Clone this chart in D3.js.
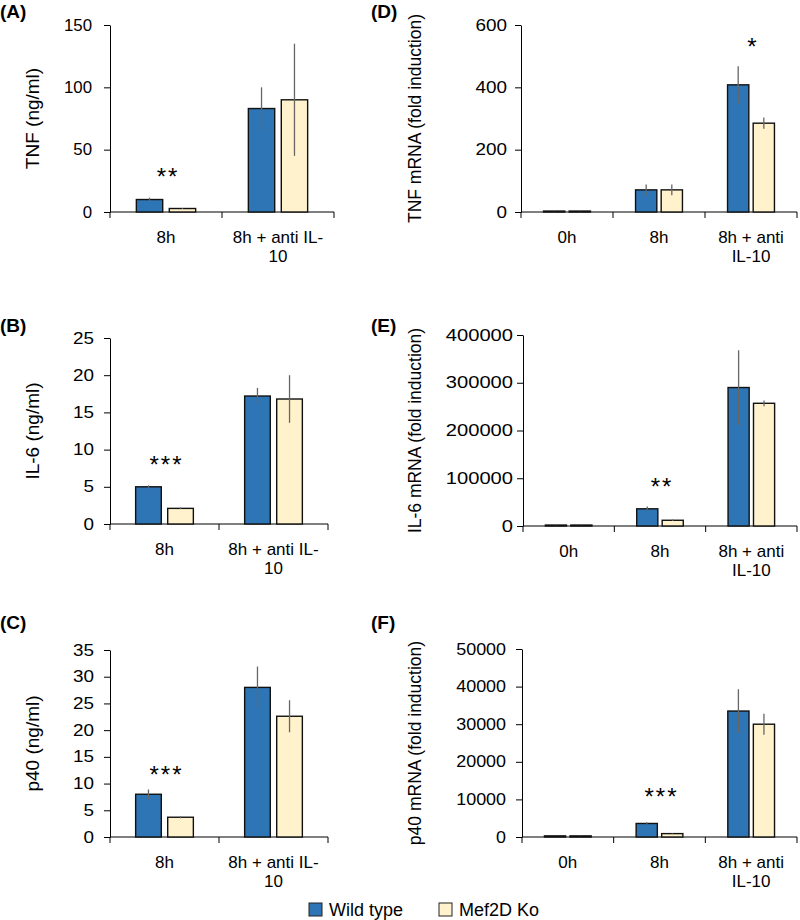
<!DOCTYPE html>
<html><head><meta charset="utf-8">
<script src="https://cdn.jsdelivr.net/npm/d3@7"></script>
<style>body{margin:0;background:#fff}svg{display:block;font-family:"Liberation Sans",Arial,sans-serif}</style>
</head><body>
<svg id="chart" width="800" height="920"></svg>
<script>
// ---------- DATA ----------
const seriesNames = ["Wild type", "Mef2D Ko"];
const seriesColors = ["#2E75B6", "#FFF2CC"];

const catsProtein = ["8h", "8h + anti IL-10"];
const catsMrna = ["0h", "8h", "8h + anti IL-10"];
const catLinesProtein = [["8h"], ["8h + anti IL-", "10"]];
const catLinesMrna = [["0h"], ["8h"], ["8h + anti", "IL-10"]];

// (A) TNF protein
const tnfWT = [10, 83], tnfWTErr = [1.5, 17];
const tnfKO = [2.8, 90], tnfKOErr = [0.4, 45];
const tnfTicks = [0, 50, 100, 150];
// (B) IL-6 protein
const il6WT = [5.0, 17.2], il6WTErr = [0.2, 1.1];
const il6KO = [2.1, 16.8], il6KOErr = [0.1, 3.2];
const il6Ticks = [0, 5, 10, 15, 20, 25];
// (C) p40 protein
const p40WT = [8.0, 28.0], p40WTErr = [0.9, 3.9];
const p40KO = [3.7, 22.6], p40KOErr = [0.2, 3.0];
const p40Ticks = [0, 5, 10, 15, 20, 25, 30, 35];
// (D) TNF mRNA
const tnfmWT = [3, 71, 408], tnfmWTErr = [0.5, 17, 60];
const tnfmKO = [3, 71, 285], tnfmKOErr = [0.5, 17, 18];
const tnfmTicks = [0, 200, 400, 600];
// (E) IL-6 mRNA
const il6mWT = [2000, 36000, 290000], il6mWTErr = [300, 5000, 78000];
const il6mKO = [2000, 12000, 257000], il6mKOErr = [300, 1500, 6000];
const il6mTicks = [0, 100000, 200000, 300000, 400000];
// (F) p40 mRNA
const p40mWT = [300, 3600, 33500], p40mWTErr = [50, 300, 5800];
const p40mKO = [300, 900, 30000], p40mKOErr = [50, 100, 2800];
const p40mTicks = [0, 10000, 20000, 30000, 40000, 50000];

// significance marks: category, text, value height
const starsA = {cat: "8h", text: "**", value: 32};
const starsB = {cat: "8h", text: "***", value: 8.6};
const starsC = {cat: "8h", text: "***", value: 12.5};
const starsD = {cat: "8h + anti IL-10", text: "*", value: 546};
const starsE = {cat: "8h", text: "**", value: 92800};
const starsF = {cat: "8h", text: "***", value: 12000};

// ---------- LAYOUT ----------
const panels = [
  {label:"(A)", lx:0, ly:18, title:"TNF (ng/ml)", tx:33, cats:catsProtein, lines:catLinesProtein,
   wt:tnfWT, wte:tnfWTErr, ko:tnfKO, koe:tnfKOErr, ticks:tnfTicks, stars:starsA,
   x0:110, x1:334, yTop:25, y0:212, pad:12, sx:1.05, tfs:19},
  {label:"(B)", lx:0, ly:332, title:"IL-6  (ng/ml)", tx:33, cats:catsProtein, lines:catLinesProtein,
   wt:il6WT, wte:il6WTErr, ko:il6KO, koe:il6KOErr, ticks:il6Ticks, stars:starsB,
   x0:110, x1:328, yTop:338, y0:524, pad:10, sx:1.18, tfs:19},
  {label:"(C)", lx:0, ly:629, title:"p40 (ng/ml)", tx:33, cats:catsProtein, lines:catLinesProtein,
   wt:p40WT, wte:p40WTErr, ko:p40KO, koe:p40KOErr, ticks:p40Ticks, stars:starsC,
   x0:110, x1:328, yTop:650, y0:837, pad:10, sx:1.18, tfs:19},
  {label:"(D)", lx:371, ly:18, title:"TNF mRNA (fold induction)", tx:415, cats:catsMrna, lines:catLinesMrna,
   wt:tnfmWT, wte:tnfmWTErr, ko:tnfmKO, koe:tnfmKOErr, ticks:tnfmTicks, stars:starsD,
   x0:521, x1:797, yTop:25, y0:212, pad:8, sx:1.18, tfs:17.5},
  {label:"(E)", lx:371, ly:332, title:"IL-6 mRNA (fold induction)", tx:415, cats:catsMrna, lines:catLinesMrna,
   wt:il6mWT, wte:il6mWTErr, ko:il6mKO, koe:il6mKOErr, ticks:il6mTicks, stars:starsE,
   x0:523, x1:797, yTop:335, y0:526, pad:4, sx:1.26, tfs:17.5},
  {label:"(F)", lx:371, ly:629, title:"p40 mRNA (fold induction)", tx:415, cats:catsMrna, lines:catLinesMrna,
   wt:p40mWT, wte:p40mWTErr, ko:p40mKO, koe:p40mKOErr, ticks:p40mTicks, stars:starsF,
   x0:522, x1:797, yTop:649, y0:837, pad:10, sx:1.12, tfs:17.5}
];

const svg = d3.select("#chart");
const fmt = d3.format("d");

panels.forEach(p => {
  const g = svg.append("g");
  const x = d3.scaleBand().domain(p.cats).range([p.x0, p.x1]).padding(0);
  const xs = d3.scaleBand().domain(seriesNames).range([0, x.bandwidth()])
    .paddingInner(p.cats.length === 2 ? 0.2 : 0.17).paddingOuter(p.cats.length === 2 ? 0.8 : 0.88);
  const y = d3.scaleLinear().domain([0, d3.max(p.ticks)]).range([p.y0, p.yTop]);

  // panel label
  g.append("text").attr("x", p.lx).attr("y", p.ly).attr("font-size", 19)
    .attr("font-weight", "bold").attr("fill", "#000").text(p.label);

  // y axis
  const ya = g.append("g").attr("transform", `translate(${p.x0},0)`)
    .call(d3.axisLeft(y).tickValues(p.ticks).tickFormat(fmt).tickSize(6).tickSizeOuter(0).tickPadding(p.pad));
  ya.select(".domain").attr("stroke", "#000");
  ya.selectAll(".tick line").attr("stroke", "#000");
  ya.selectAll(".tick text").attr("font-size", 16).attr("fill", "#000")
    .attr("font-family", '"Liberation Sans",Arial,sans-serif')
    .attr("x", -(6 + p.pad) / p.sx).attr("transform", `scale(${p.sx},1)`);

  // x axis (line + boundary ticks)
  const xa = g.append("g");
  xa.append("line").attr("x1", p.x0).attr("x2", p.x1).attr("y1", p.y0).attr("y2", p.y0)
    .attr("stroke", "#000").attr("stroke-width", 1);
  const bounds = p.cats.map(c => x(c)).concat([p.x1]);
  xa.selectAll("line.b").data(bounds).join("line").attr("class", "b")
    .attr("x1", d => d).attr("x2", d => d).attr("y1", p.y0).attr("y2", p.y0 + 6)
    .attr("stroke", "#000");
  // category labels (one text per line)
  p.cats.forEach((c, i) => {
    p.lines[i].forEach((ln, j) => {
      xa.append("text").attr("text-anchor", "middle").attr("font-size", 17).attr("fill", "#000")
        .attr("x", x(c) + x.bandwidth() / 2).attr("y", p.y0 + 31 + j * 19).text(ln);
    });
  });

  // bars
  const rows = [];
  p.cats.forEach((c, i) => {
    rows.push({c, s: seriesNames[0], v: p.wt[i], e: p.wte[i], col: seriesColors[0]});
    rows.push({c, s: seriesNames[1], v: p.ko[i], e: p.koe[i], col: seriesColors[1]});
  });
  g.selectAll("rect.bar").data(rows).join("rect").attr("class", "bar")
    .attr("x", d => x(d.c) + xs(d.s)).attr("width", xs.bandwidth())
    .attr("y", d => y(d.v)).attr("height", d => p.y0 - y(d.v))
    .attr("fill", d => d.col).attr("stroke", "#111").attr("stroke-width", 1.4);
  // error bars
  g.selectAll("line.err").data(rows).join("line").attr("class", "err")
    .attr("x1", d => x(d.c) + xs(d.s) + xs.bandwidth() / 2)
    .attr("x2", d => x(d.c) + xs(d.s) + xs.bandwidth() / 2)
    .attr("y1", d => y(d.v + d.e)).attr("y2", d => y(d.v - d.e))
    .attr("stroke", "#666").attr("stroke-width", 1.3);

  // significance stars
  g.append("text").attr("x", x(p.stars.cat) + x.bandwidth() / 2 + 2)
    .attr("y", y(p.stars.value) + 13).attr("text-anchor", "middle")
    .attr("font-size", 24).attr("letter-spacing", 2).attr("fill", "#000").text(p.stars.text);

  // y title
  const cy = (p.yTop + p.y0) / 2;
  g.append("text").attr("transform", `translate(${p.tx + 6},${cy}) rotate(-90)`)
    .attr("text-anchor", "middle").attr("font-size", p.tfs).attr("fill", "#000").text(p.title);
});

// legend
const leg = svg.append("g");
const legX = [309, 439];
seriesNames.forEach((s, i) => {
  leg.append("rect").attr("x", legX[i]).attr("y", 903).attr("width", 13).attr("height", 13)
    .attr("fill", seriesColors[i]).attr("stroke", "#222").attr("stroke-width", 1);
  leg.append("text").attr("x", legX[i] + 20).attr("y", 916).attr("font-size", 18).attr("fill", "#000").text(s);
});
</script>
</body></html>
